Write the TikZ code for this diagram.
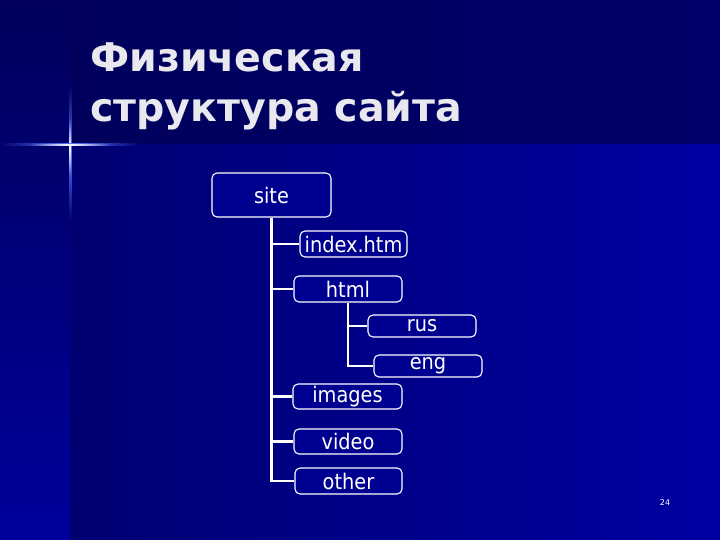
\documentclass[tikz,border=0pt]{standalone}
\usepackage{fontspec}
\setmainfont{DejaVu Sans}
\newfontfamily\titlefont{DejaVu Sans Bold}
\newfontfamily\boxfont{DejaVu Sans Condensed}
\usetikzlibrary{fadings}
\definecolor{bandtop}{HTML}{00005C}
\definecolor{bandtopr}{HTML}{00006A}
\definecolor{stripbot}{HTML}{00009C}
\definecolor{panell}{HTML}{000072}
\definecolor{panelr}{HTML}{0000A2}
\definecolor{boxfill}{HTML}{000090}
\definecolor{titlecol}{HTML}{E8E8EE}
\definecolor{glow}{HTML}{5878FF}
\tikzfading[name=glowfade, left color=transparent!100, right color=transparent!100, middle color=transparent!0]
\tikzfading[name=glowfadev, top color=transparent!100, bottom color=transparent!100, middle color=transparent!0]
\tikzset{
  folder/.style={draw=white, line width=1.1pt, rounded corners=5pt, fill=boxfill, text=white,
    inner sep=0pt, font=\boxfont\fontsize{21.5}{21.5}\selectfont},
  conn/.style={draw=white, line width=2.5pt},
  titletext/.style={anchor=base west, inner sep=0pt, text=titlecol, font=\titlefont\fontsize{39.5}{39.5}\selectfont}
}
\begin{document}
\begin{tikzpicture}[x=1pt,y=-1pt]
\useasboundingbox (0,0) rectangle (720,540);
% backgrounds
\shade[top color=bandtop, bottom color=stripbot] (0,0) rectangle (70,540);
\shade[left color=bandtop, right color=bandtopr] (70,0) rectangle (720,145);
\shade[left color=panell, right color=panelr] (70,145) rectangle (720,540);
% cross glow
\fill[glow, path fading=glowfadev] (68.5,85) rectangle (71.5,220);
\fill[white, path fading=glowfadev] (69.4,120) rectangle (70.6,175);
\fill[glow, path fading=glowfade] (0,143.5) rectangle (140,146.5);
\fill[white, path fading=glowfade] (30,144.4) rectangle (110,145.6);
% title
\node[titletext] (t1) at (90,72) {Физическая};
\node[titletext] (t2) at (90,122) {структура сайта};
% boxes
\node[folder, minimum width=119pt, minimum height=44pt] (site) at (271.5,195) {site};
\node[folder, minimum width=107pt, minimum height=26pt] (idx) at (353.5,244) {index.htm};
\node[folder, minimum width=108pt, minimum height=26pt] (html) at (348,289) {html};
\node[folder, minimum width=108pt, minimum height=22pt] (rus) at (422,326) {rus};
\node[folder, minimum width=108pt, minimum height=22pt] (eng) at (428,366) {eng};
\node[folder, minimum width=109pt, minimum height=25pt] (images) at (347.5,396.5) {images};
\node[folder, minimum width=108pt, minimum height=25pt] (video) at (348,441.5) {video};
\node[folder, minimum width=107pt, minimum height=26pt] (other) at (348.5,481) {other};
% connectors
\draw[conn] (site.south) |- (other.west);
\draw[conn] (site.south |- idx.west) -- (idx.west);
\draw[conn] (site.south |- html.west) -- (html.west);
\draw[conn] (site.south |- images.west) -- (images.west);
\draw[conn] (site.south |- video.west) -- (video.west);
\draw[conn] (html.south) |- (eng.west);
\draw[conn] (html.south |- rus.west) -- (rus.west);
% page number
\node[text=white, inner sep=0pt, font=\fontsize{8}{8}\selectfont] (pg) at (665,503) {24};
\end{tikzpicture}
\end{document}
